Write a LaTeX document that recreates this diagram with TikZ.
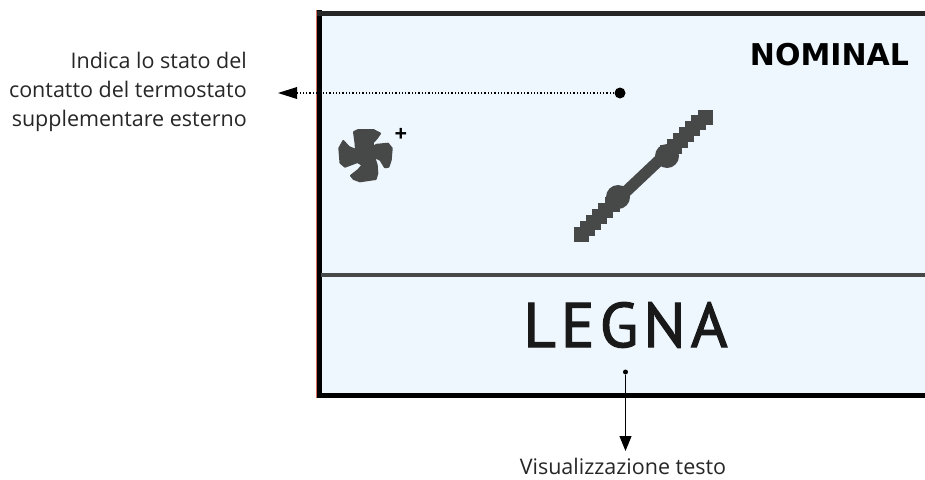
\documentclass[tikz,border=0pt]{standalone}
\usepackage{fontspec}
\usepackage{xcolor}
\usepackage{tikz}
\usetikzlibrary{arrows.meta, positioning, calc}
\setmainfont{Open Sans}
\newfontfamily\lcdfont[LetterSpace=8, FakeBold=1.8]{PT Sans}
\newfontfamily\statusfont{DejaVu Sans}
\definecolor{panelblue}{HTML}{EEF7FE}
\definecolor{fangray}{HTML}{474848}
\definecolor{edgered}{HTML}{D9705F}
\tikzset{
    calloutlabel/.style={font=\fontsize{21.5}{29}\selectfont, text=black!85, align=right, anchor=east, inner sep=0pt},
    leaderdot/.style={circle, fill=black, inner sep=0pt},
    leadertip/.style={-{Triangle[length=15pt, width=12pt]}, line width=0.9pt}
}

\begin{document}
\begin{tikzpicture}[x=1pt, y=-1pt]
    \useasboundingbox (0,0) rectangle (925,479);

    % Display panel
    \fill[panelblue] (319,13) rectangle (925,396);
    \fill[edgered] (316,10) rectangle (317.5,398);
    \fill[black] (317,10) rectangle (321.5,398);
    \fill[black!85] (317,10.5) rectangle (925,15.5);
    \fill[black] (317,393) rectangle (925,398);
    \fill[fangray] (321,272.5) rectangle (925,277);

    % Fan icon
    \filldraw[fangray, line width=2pt, line join=round] (354,132) -- (358.3,130) -- (373.3,130) -- (380,133.5) -- (376.7,138.3) -- (373,142.3) -- (372.5,147)
        -- (376.7,144.8) -- (388,143.7) -- (391.7,148.3) -- (390.7,160) -- (388.5,166.7) -- (385,167.3) -- (380.5,160) -- (374,156.5)
        -- (376.7,165) -- (377.3,173.3) -- (375.7,179) -- (360,181.3) -- (353.8,179) -- (351,175.7) -- (358.3,170) -- (362.5,165)
        -- (357.5,162) -- (345,166.7) -- (340.5,162.8) -- (339.3,148.3) -- (343.3,141) -- (348.8,147) -- (356,150) -- (355.5,143) -- cycle;
    \node[font=\bfseries\fontsize{22}{22}\selectfont, inner sep=0pt] (plus) at (401,135) {+};

    % Bar with two hubs
    \draw[fangray, line width=11.5pt] (581,234) -- (705,117);
    \foreach \t in {0,0.05,...,0.31,0.7,0.75,...,1.01}
        \fill[fangray] ($(581,234)!\t!(705,117)$) +(-7.5,-7.5) rectangle +(7.5,7.5);
    \fill[fangray] (618,197) circle (12);
    \fill[fangray] (667,156) circle (12);

    % Texts on the display
    \node[font=\statusfont\bfseries\fontsize{30}{30}\selectfont, inner sep=0pt] (status) at (829.5,55) {NOMINAL};
    \node[font=\lcdfont\fontsize{63}{63}\selectfont, text=black!90, inner sep=0pt] (fuel) at (625.5,325) {LEGNA};

    % Callout top left
    \node[calloutlabel] (thermolabel) at (247,92) {Indica lo stato del\\contatto del termostato\\supplementare esterno};
    \node[leaderdot, minimum size=11pt] (thermodot) at (620,93) {};
    \coordinate (thermotip) at (278,93);
    \draw[dotted, line width=1.3pt, shorten >=14pt] (thermodot) -- (thermotip);
    \fill[black] (thermotip) -- ++(19,-6) -- ++(0,12) -- cycle;

    % Callout bottom
    \node[leaderdot, minimum size=5pt] (textdot) at (625.5,372) {};
    \node[font=\fontsize{21.5}{21.5}\selectfont, text=black!85, inner sep=0pt] (textlabel) at (623,466) {Visualizzazione testo};
    \coordinate (texttip) at (625.5,451);
    \draw[leadertip] (textdot) -- (texttip);
\end{tikzpicture}
\end{document}
